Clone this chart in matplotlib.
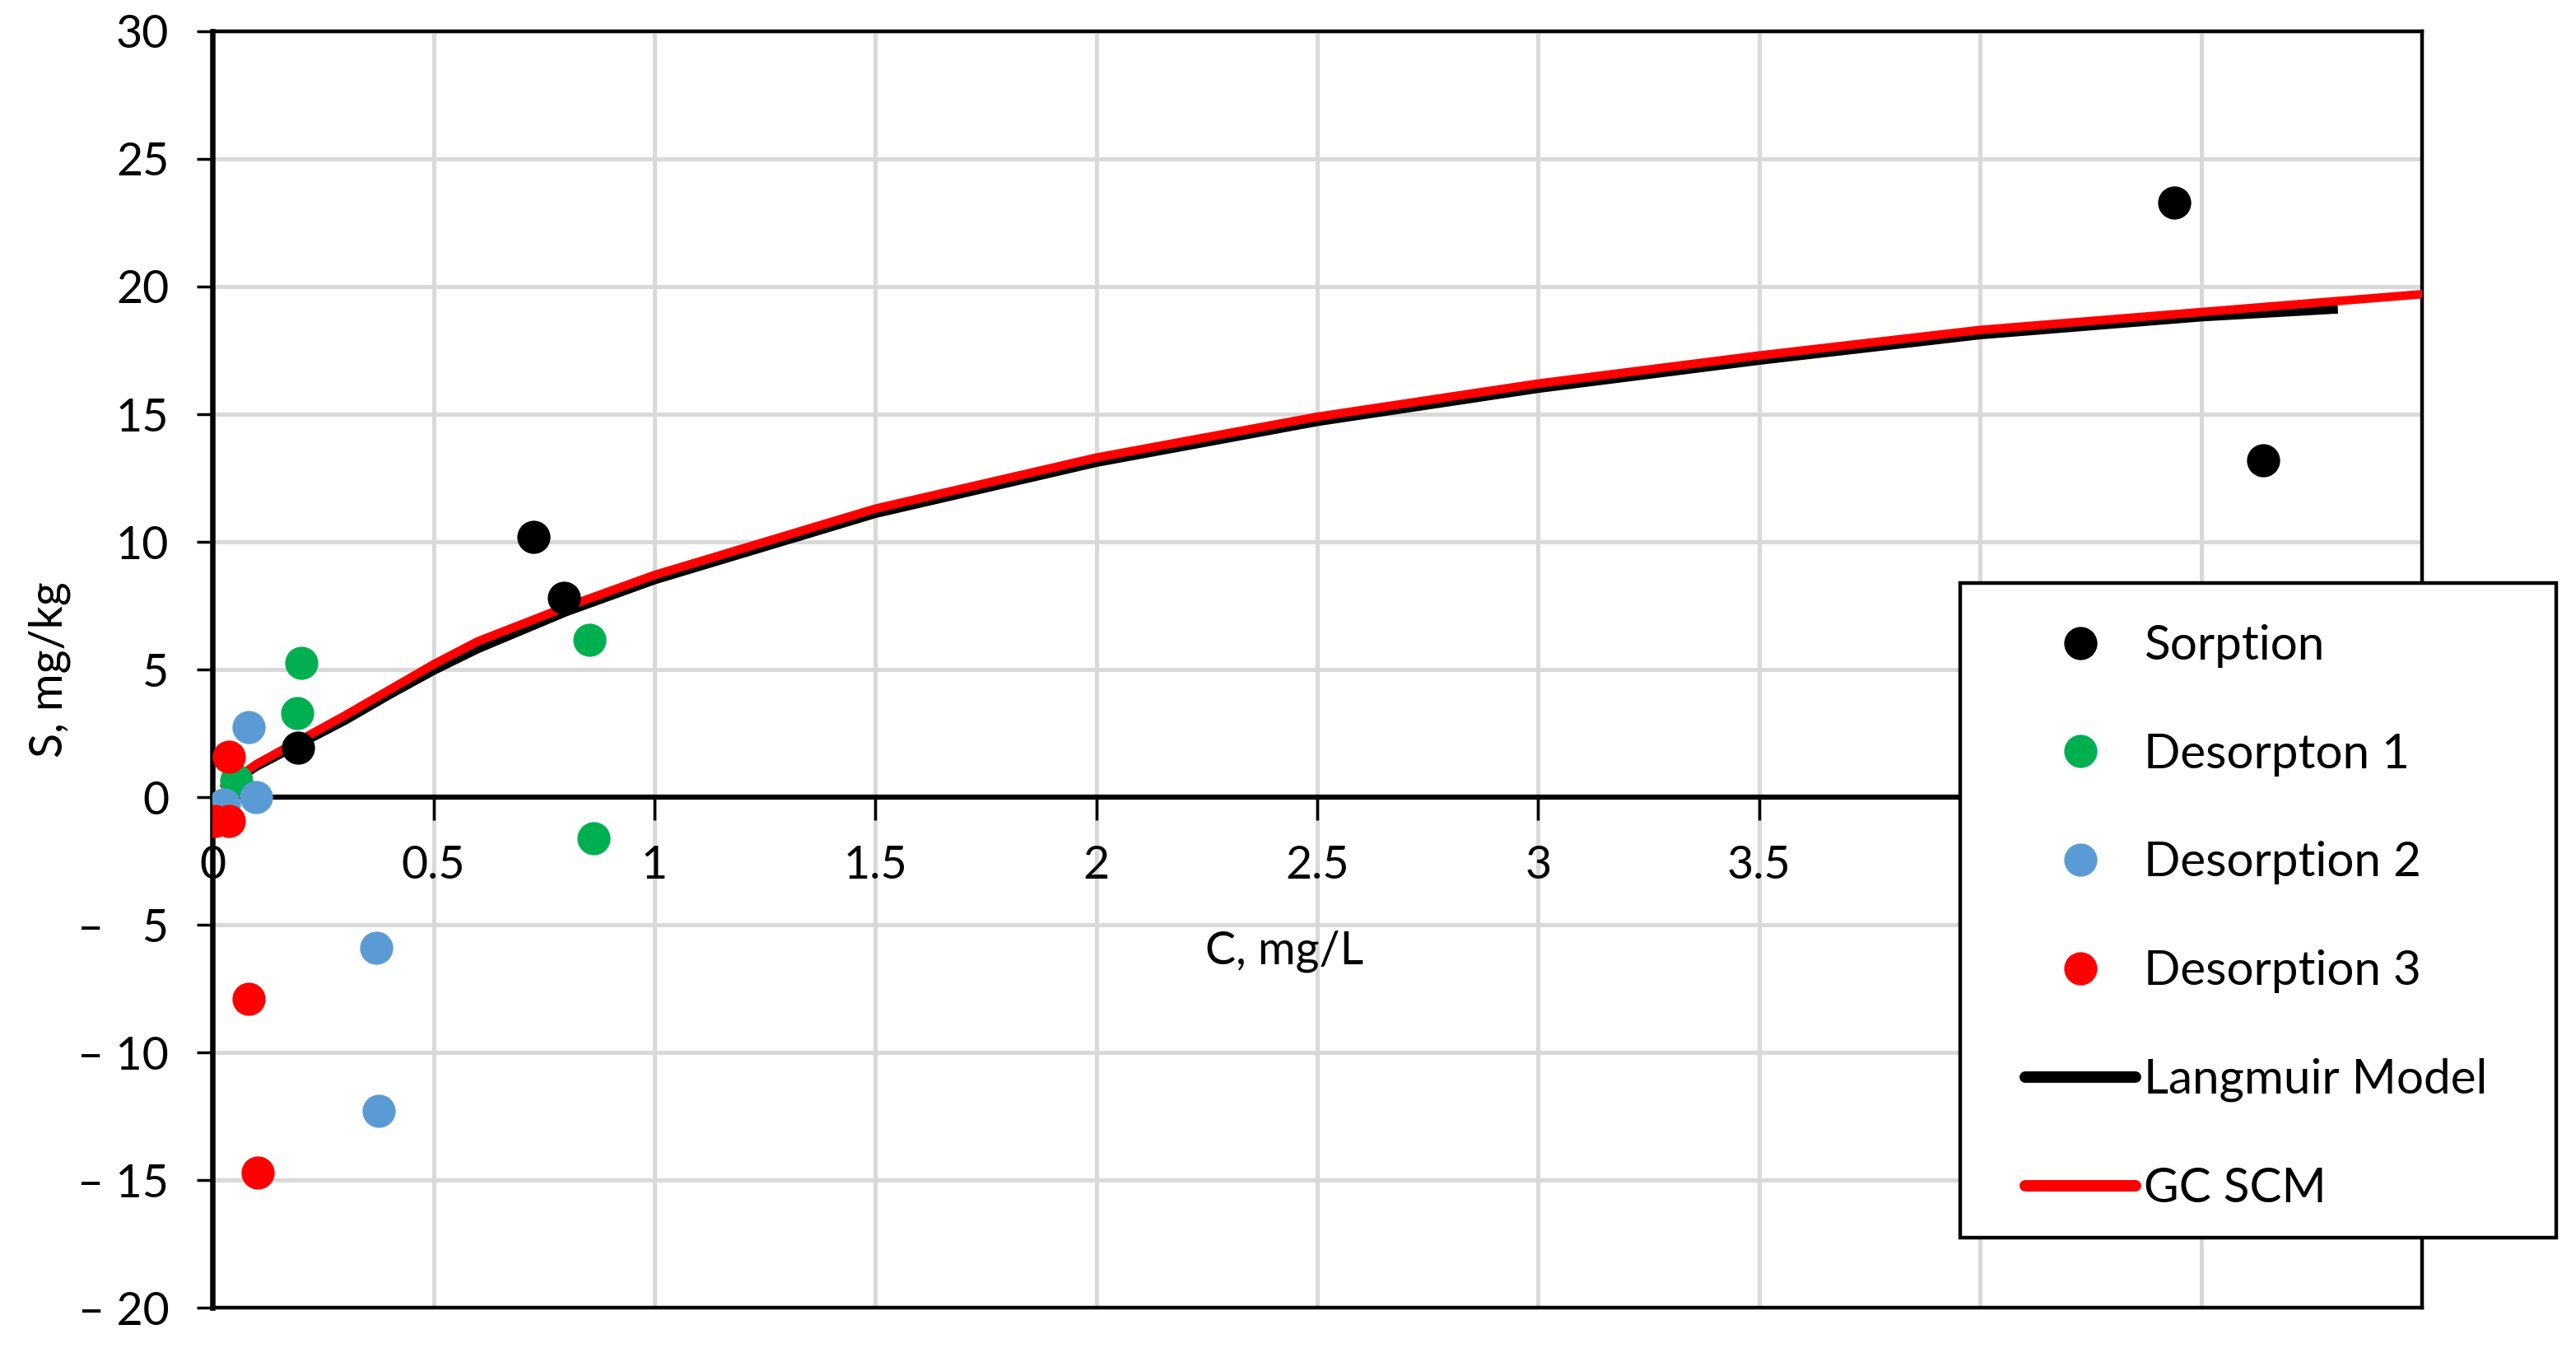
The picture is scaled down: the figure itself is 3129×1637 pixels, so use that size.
import matplotlib
matplotlib.use('Agg')
import matplotlib.pyplot as plt
from matplotlib.lines import Line2D
from matplotlib.patches import Rectangle

plt.rcParams['font.family'] = ['Lato', 'DejaVu Sans']

# measured points, C (mg/L) vs S (mg/kg)
sorption_c = [0.194, 0.726, 0.796, 4.44, 4.64]
sorption_s = [1.95, 10.2, 7.8, 23.3, 13.2]

des1_c = [0.053, 0.191, 0.201, 0.853, 0.863]
des1_s = [0.65, 3.3, 5.25, 6.15, -1.6]

des2_c = [0.082, 0.099, 0.026, 0.371, 0.377]
des2_s = [2.75, 0.0, -0.3, -5.9, -12.3]

des3_c = [0.037, 0.006, 0.037, 0.081, 0.103]
des3_s = [1.58, -0.94, -0.94, -7.9, -14.7]

# model curves
langmuir_c = [0.03, 0.1, 0.2, 0.3, 0.4, 0.5, 0.6, 0.8, 1.0, 1.5, 2.0, 2.5, 3.0, 3.5, 4.0, 4.5, 4.8]
langmuir_s = [0.4, 1.2, 2.1, 3.0, 4.0, 4.95, 5.8, 7.25, 8.5, 11.1, 13.1, 14.7, 16.0, 17.1, 18.1, 18.8, 19.1]

gcscm_c = [0.03, 0.1, 0.2, 0.3, 0.4, 0.5, 0.6, 0.8, 1.0, 1.5, 2.0, 2.5, 3.0, 3.5, 4.0, 4.5, 5.0]
gcscm_s = [0.45, 1.3, 2.25, 3.2, 4.2, 5.2, 6.1, 7.45, 8.7, 11.3, 13.3, 14.9, 16.2, 17.3, 18.3, 19.0, 19.7]

# labels for 4, 4.5 and 5 sit under the legend box in the original
x_ticks = [0, 0.5, 1, 1.5, 2, 2.5, 3, 3.5, 4, 4.5, 5]
x_labels = ['0', '0.5', '1', '1.5', '2', '2.5', '3', '3.5', '', '', '']
y_ticks = [30, 25, 20, 15, 10, 5, 0, -5, -10, -15, -20]
y_labels = ['30', '25', '20', '15', '10', '5', '0',
            '\u2013 \u20075', '\u2013 10', '\u2013 15', '\u2013 20']

black = '#000000'
green = '#00b050'
blue = '#5b9bd5'
red = '#ff0000'
grid_col = '#d9d9d9'
fs = 40
ms = 29

fig = plt.figure(figsize=(31.29, 16.37), dpi=100)
ax = fig.add_axes([0.0825, 0.0299, 0.8577, 0.9469])

ax.set_xlim(0, 5)
ax.set_ylim(-20, 30)

# model lines
ax.plot(langmuir_c, langmuir_s, color=black, lw=7.5, zorder=3)
ax.plot(gcscm_c, gcscm_s, color=red, lw=7.5, zorder=4)

# points
ax.plot(des1_c, des1_s, 'o', color=green, ms=ms, mec='none', zorder=5)
ax.plot(des2_c, des2_s, 'o', color=blue, ms=ms, mec='none', zorder=6)
ax.plot(des3_c, des3_s, 'o', color=red, ms=ms, mec='none', zorder=7)
ax.plot(sorption_c, sorption_s, 'o', color=black, ms=ms, mec='none', zorder=8)

# grid
ax.set_xticks(x_ticks)
ax.set_xticklabels(x_labels)
ax.set_yticks(y_ticks)
ax.set_yticklabels(y_labels)
ax.grid(True, color=grid_col, lw=3.6, zorder=0)
ax.set_axisbelow(True)

# axes frame, x axis crosses at 0
ax.spines['bottom'].set_position(('data', 0))
ax.spines['bottom'].set_linewidth(4.5)
ax.spines['left'].set_linewidth(4.7)
ax.spines['top'].set_linewidth(3.2)
ax.spines['right'].set_linewidth(3.2)
ax.axhline(-20, color=black, lw=3.2, clip_on=False, zorder=2)

ax.tick_params(axis='x', direction='out', length=20, width=2.5, pad=22, labelsize=fs)
ax.tick_params(axis='y', direction='out', length=14, width=2.5, pad=24, labelsize=fs)

ax.set_ylabel('S, mg/kg', fontsize=fs)
ax.yaxis.set_label_coords(-0.064, 0.5)
ax.set_xlabel('C, mg/L', fontsize=fs)
ax.xaxis.set_label_coords(0.485, 0.296)

# legend with its own box
box = Rectangle((0.7609, 0.0818), 0.2314, 0.4856, transform=fig.transFigure,
                facecolor='white', edgecolor=black, lw=3.2, zorder=10)
fig.patches.append(box)

handles = [
    Line2D([], [], ls='none', marker='o', color=black, ms=ms, mec='none'),
    Line2D([], [], ls='none', marker='o', color=green, ms=ms, mec='none'),
    Line2D([], [], ls='none', marker='o', color=blue, ms=ms, mec='none'),
    Line2D([], [], ls='none', marker='o', color=red, ms=ms, mec='none'),
    Line2D([], [], color=black, lw=10, solid_capstyle='round'),
    Line2D([], [], color=red, lw=10, solid_capstyle='round'),
]
labels = ['Sorption', 'Desorpton 1', 'Desorption 2', 'Desorption 3', 'Langmuir Model', 'GC SCM']
leg = fig.legend(handles, labels, loc='upper left', bbox_to_anchor=(0.7862, 0.537),
                 frameon=False, borderpad=0, borderaxespad=0, handlelength=2.3,
                 handletextpad=0.17, labelspacing=1.35, fontsize=42)
leg.set_zorder(11)

fig.savefig('out.png', dpi=100)
